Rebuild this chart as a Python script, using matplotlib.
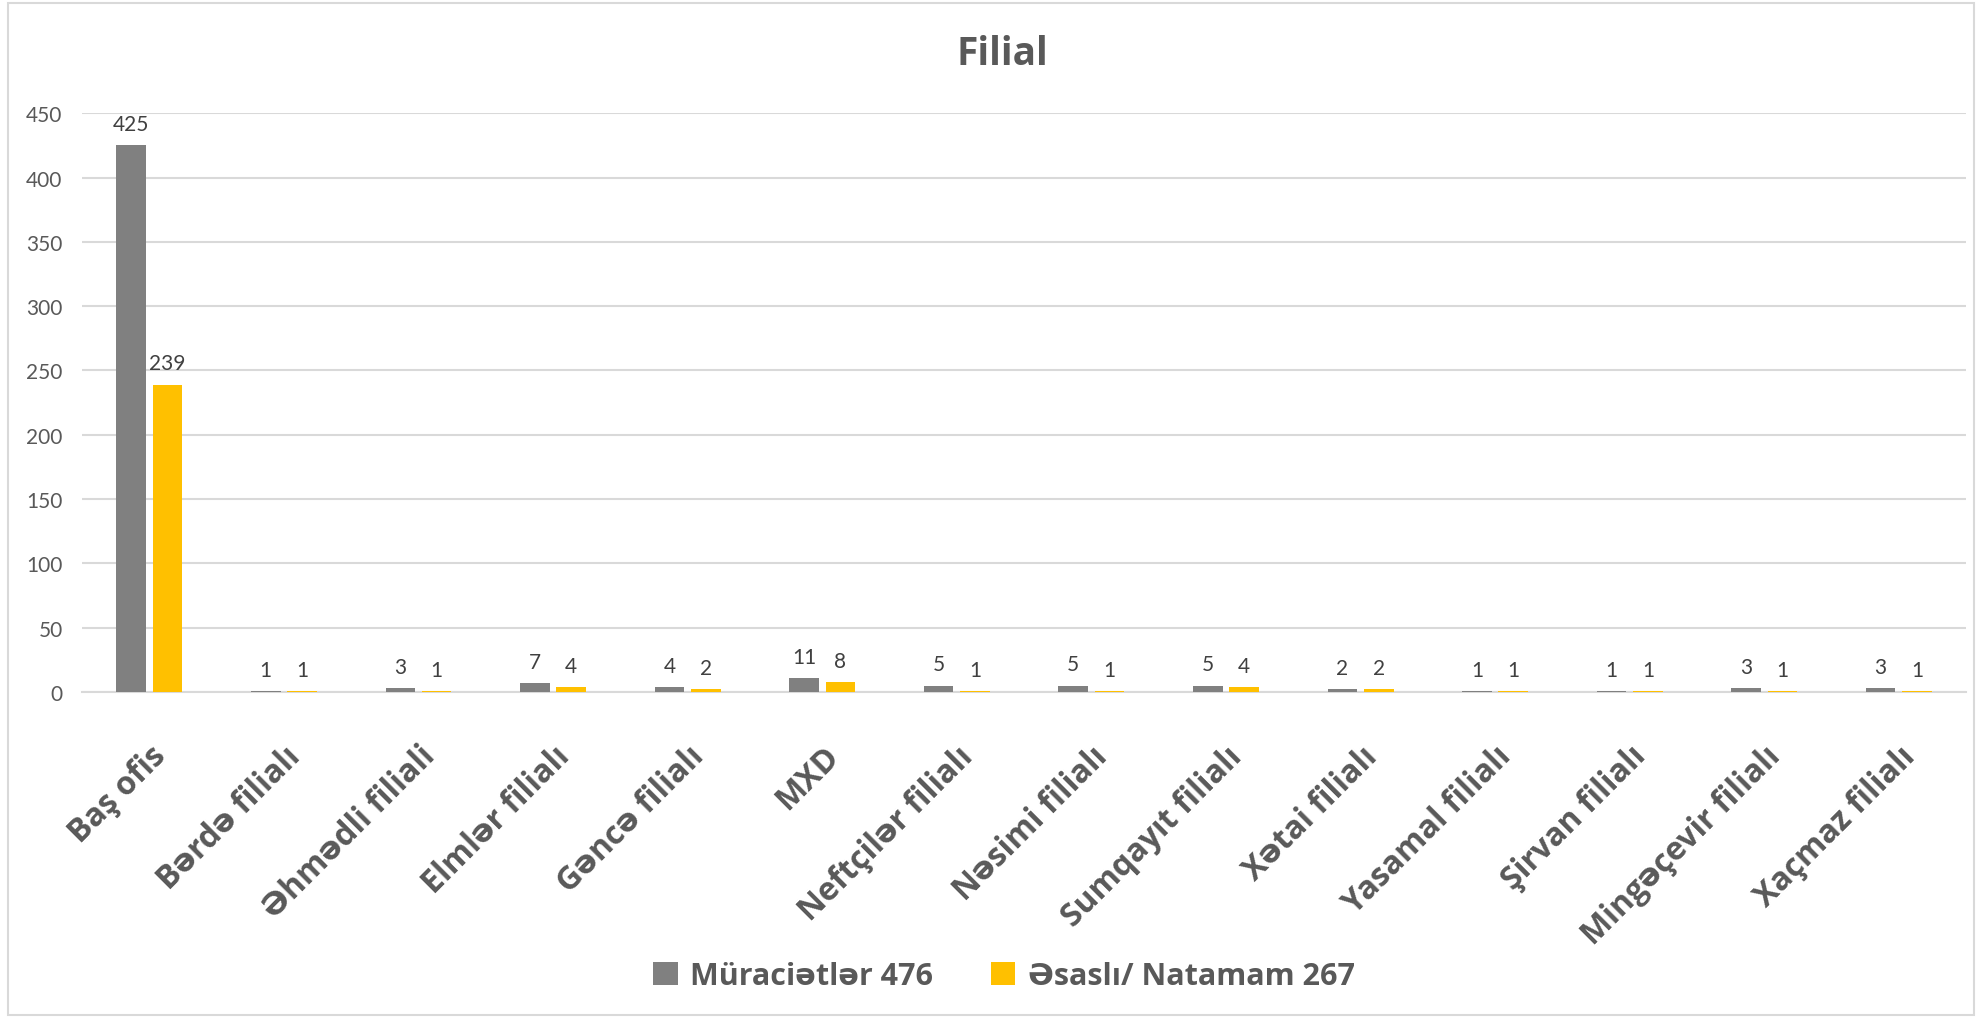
import numpy as np
import matplotlib
matplotlib.use('Agg')
import matplotlib.pyplot as plt
from matplotlib.patches import Rectangle

categories = ['Baş ofis', 'Bərdə filialı', 'Əhmədli filiali', 'Elmlər filialı',
              'Gəncə filialı', 'MXD', 'Neftçilər filialı', 'Nəsimi filialı',
              'Sumqayıt filialı', 'Xətai filialı', 'Yasamal filialı',
              'Şirvan filialı', 'Mingəçevir filialı', 'Xaçmaz filialı']
muraciet = [425, 1, 3, 7, 4, 11, 5, 5, 5, 2, 1, 1, 3, 3]
esasli = [239, 1, 1, 4, 2, 8, 1, 1, 4, 2, 1, 1, 1, 1]
series_names = ['Müraciətlər 476', 'Əsaslı/ Natamam 267']
yticks = [0, 50, 100, 150, 200, 250, 300, 350, 400, 450]

GRAY = '#808080'
YELLOW = '#FFC000'
TXT = '#595959'
BOLD_FONT = ['Open Sans', 'DejaVu Sans']
NUM_FONT = ['Lato', 'DejaVu Sans']

fig = plt.figure(figsize=(19.82, 10.2), dpi=100)
ax = fig.add_axes([0.0414, 0.3206, 0.9506, 0.5674])

x = np.arange(len(categories))
w = 0.22
off = 0.135
b1 = ax.bar(x - off, muraciet, w, color=GRAY, label=series_names[0], zorder=3)
b2 = ax.bar(x + off, esasli, w, color=YELLOW, label=series_names[1], zorder=3)

for bars in (b1, b2):
    ax.bar_label(bars, padding=8, fontsize=15, color='#404040', family=NUM_FONT)

ax.set_xlim(-0.5, len(categories) - 0.5)
ax.set_ylim(0, 450)
ax.set_yticks(yticks)
ax.set_yticklabels([str(v) for v in yticks], fontsize=15, color=TXT, family=NUM_FONT)
ax.yaxis.grid(True, color='#D9D9D9', linewidth=1.5, zorder=0)
ax.tick_params(axis='both', length=0)
ax.tick_params(axis='y', pad=14)
for s in ['top', 'right', 'left']:
    ax.spines[s].set_visible(False)
ax.spines['bottom'].set_color('#D9D9D9')
ax.spines['bottom'].set_linewidth(1.5)

ax.set_xticks(x)
ax.set_xticklabels(categories, rotation=45, ha='right', rotation_mode='anchor',
                   fontsize=23, fontweight='bold', color=TXT, family=BOLD_FONT)
ax.tick_params(axis='x', pad=34)

fig.text(0.5055, 0.947, 'Filial', ha='center', va='center', fontsize=28,
         fontweight='bold', color=TXT, family=BOLD_FONT)

leg = fig.legend(handles=[b1, b2], loc='center', bbox_to_anchor=(0.5065, 0.042),
                 ncol=2, frameon=False, handlelength=0.8, handleheight=0.8,
                 handletextpad=0.4, columnspacing=1.9,
                 prop={'family': BOLD_FONT, 'weight': 'bold', 'size': 22})
for t in leg.get_texts():
    t.set_color(TXT)

fig.patches.append(Rectangle((0.004, 0.004), 0.992, 0.992, transform=fig.transFigure,
                             fill=False, edgecolor='#D9D9D9', linewidth=1.5))

fig.savefig('out.png', dpi=100, facecolor='white')
